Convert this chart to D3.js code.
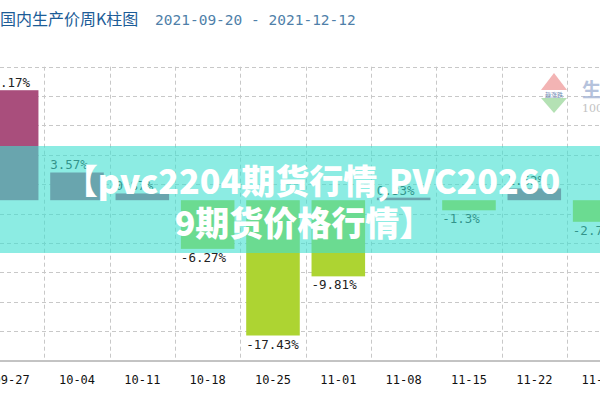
<!DOCTYPE html>
<html><head><meta charset="utf-8">
<script src="https://cdn.jsdelivr.net/npm/d3@7"></script>
<style>html,body{margin:0;padding:0;background:#fff;}svg{display:block;}</style>
</head><body>
<svg id="c" width="600" height="400"></svg>
<script>
const categories = ["09-27","10-04","10-11","10-18","10-25","11-01","11-08","11-15","11-22","11-29"];
const values = [14.17, 3.57, 0.87, -6.27, -17.43, -9.81, 0.33, -1.3, 1.52, -2.78];
const valueLabels = ["14.17%","3.57%","0.87%","-6.27%","-17.43%","-9.81%","0.33%","-1.3%","1.52%","-2.78%"];
const yDomain = [-20.65, 17.2];
const titleText = "国内生产价周K柱图";
const dateText = "2021-09-20 - 2021-12-12";
const overlayLines = ["【pvc2204期货行情,PVC20260", "9期货价格行情】"];

const svg = d3.select("#c");
const plotTop = 66.7, plotBottom = 360.5;
const x = d3.scaleBand().domain(categories).range([-21, -21 + 65.33*categories.length]).paddingInner(0.18).paddingOuter(0.09);
const y = d3.scaleLinear().domain(yDomain).range([plotBottom, plotTop]);

// header
svg.append("text").attr("x",0).attr("y",25).attr("font-family","'Noto Sans CJK SC'").attr("font-size",16)
  .attr("fill","#1c5c97").text(titleText);
svg.append("text").attr("x",155).attr("y",25).attr("font-family","'DejaVu Sans Mono'").attr("font-size",14.5)
  .attr("fill","#4f7fa9").text(dateText);

// grid
const g = svg.append("g");
const gridVals = d3.range(11).map(i => yDomain[0] + i*(yDomain[1]-yDomain[0])/10);
g.selectAll("line.h").data(gridVals.slice(1)).join("line")
  .attr("x1",0).attr("x2",600).attr("y1",d=>Math.round(y(d))+0.5).attr("y2",d=>Math.round(y(d))+0.5)
  .attr("stroke","#c8c8c8").attr("stroke-dasharray","4,3");
const step = x.step();
g.selectAll("line.v").data(categories).join("line")
  .attr("x1",d=>Math.round(x(d)-x.paddingInner()*step/2+step)+0.5)
  .attr("x2",d=>Math.round(x(d)-x.paddingInner()*step/2+step)+0.5)
  .attr("y1",plotTop).attr("y2",plotBottom)
  .attr("stroke","#c8c8c8").attr("stroke-dasharray","4,3");

// logo watermark
const lg = svg.append("g").attr("opacity",0.85);
lg.append("path").attr("d","M554,73 L567,90 L541,90 Z").attr("fill","#f2a7a7");
lg.append("path").attr("d","M541,98 L567,98 L554,113 Z").attr("fill","#a8dca8");
lg.append("text").attr("x",554).attr("y",96.5).attr("text-anchor","middle").attr("font-size",6)
  .attr("font-family","'Noto Sans CJK SC'").attr("fill","#5577aa").text("趋涨跌");
lg.append("text").attr("x",582).attr("y",97).attr("font-size",19).attr("font-weight","bold")
  .attr("font-family","'Noto Sans CJK SC'").attr("fill","#a9b8d6").text("生");
lg.append("text").attr("x",582).attr("y",112).attr("font-size",11)
  .attr("font-family","'DejaVu Serif'").attr("fill","#b8b8b8").text("100");

// bars
g.selectAll("rect.bar").data(values).join("rect")
  .attr("x",(d,i)=>x(categories[i])).attr("width",x.bandwidth())
  .attr("y",d=>y(Math.max(0,d))).attr("height",d=>Math.abs(y(d)-y(0)))
  .attr("fill",d=>d>=0?"#a94e7c":"#add432");
g.selectAll("text.lab").data(values).join("text")
  .attr("x",(d,i)=>x(categories[i])).attr("y",d=>d>=0?y(d)-3:y(d)+13)
  .attr("font-family","'DejaVu Sans Mono'").attr("font-size",12.5).attr("fill","#222")
  .text((d,i)=>valueLabels[i]);

// axis
const ax = svg.append("g").attr("transform",`translate(0,${plotBottom})`)
  .call(d3.axisBottom(x).tickSize(0).tickPadding(15));
ax.select(".domain").attr("stroke","#888");
ax.selectAll("text").attr("font-family","'DejaVu Sans Mono'").attr("font-size",12).attr("fill","#111");

// overlay band
svg.append("rect").attr("x",0).attr("y",146).attr("width",600).attr("height",107)
  .attr("fill","rgb(64,224,208)").attr("fill-opacity",0.6);
svg.selectAll("text.ov").data(overlayLines).join("text")
  .attr("x",(d,i)=>i===0?312:304).attr("y",(d,i)=>194+i*42)
  .attr("text-anchor","middle").attr("font-family","'Noto Sans CJK SC'").attr("font-weight","900")
  .attr("font-size",34).attr("fill","#fff").text(d=>d);
</script>
</body></html>
